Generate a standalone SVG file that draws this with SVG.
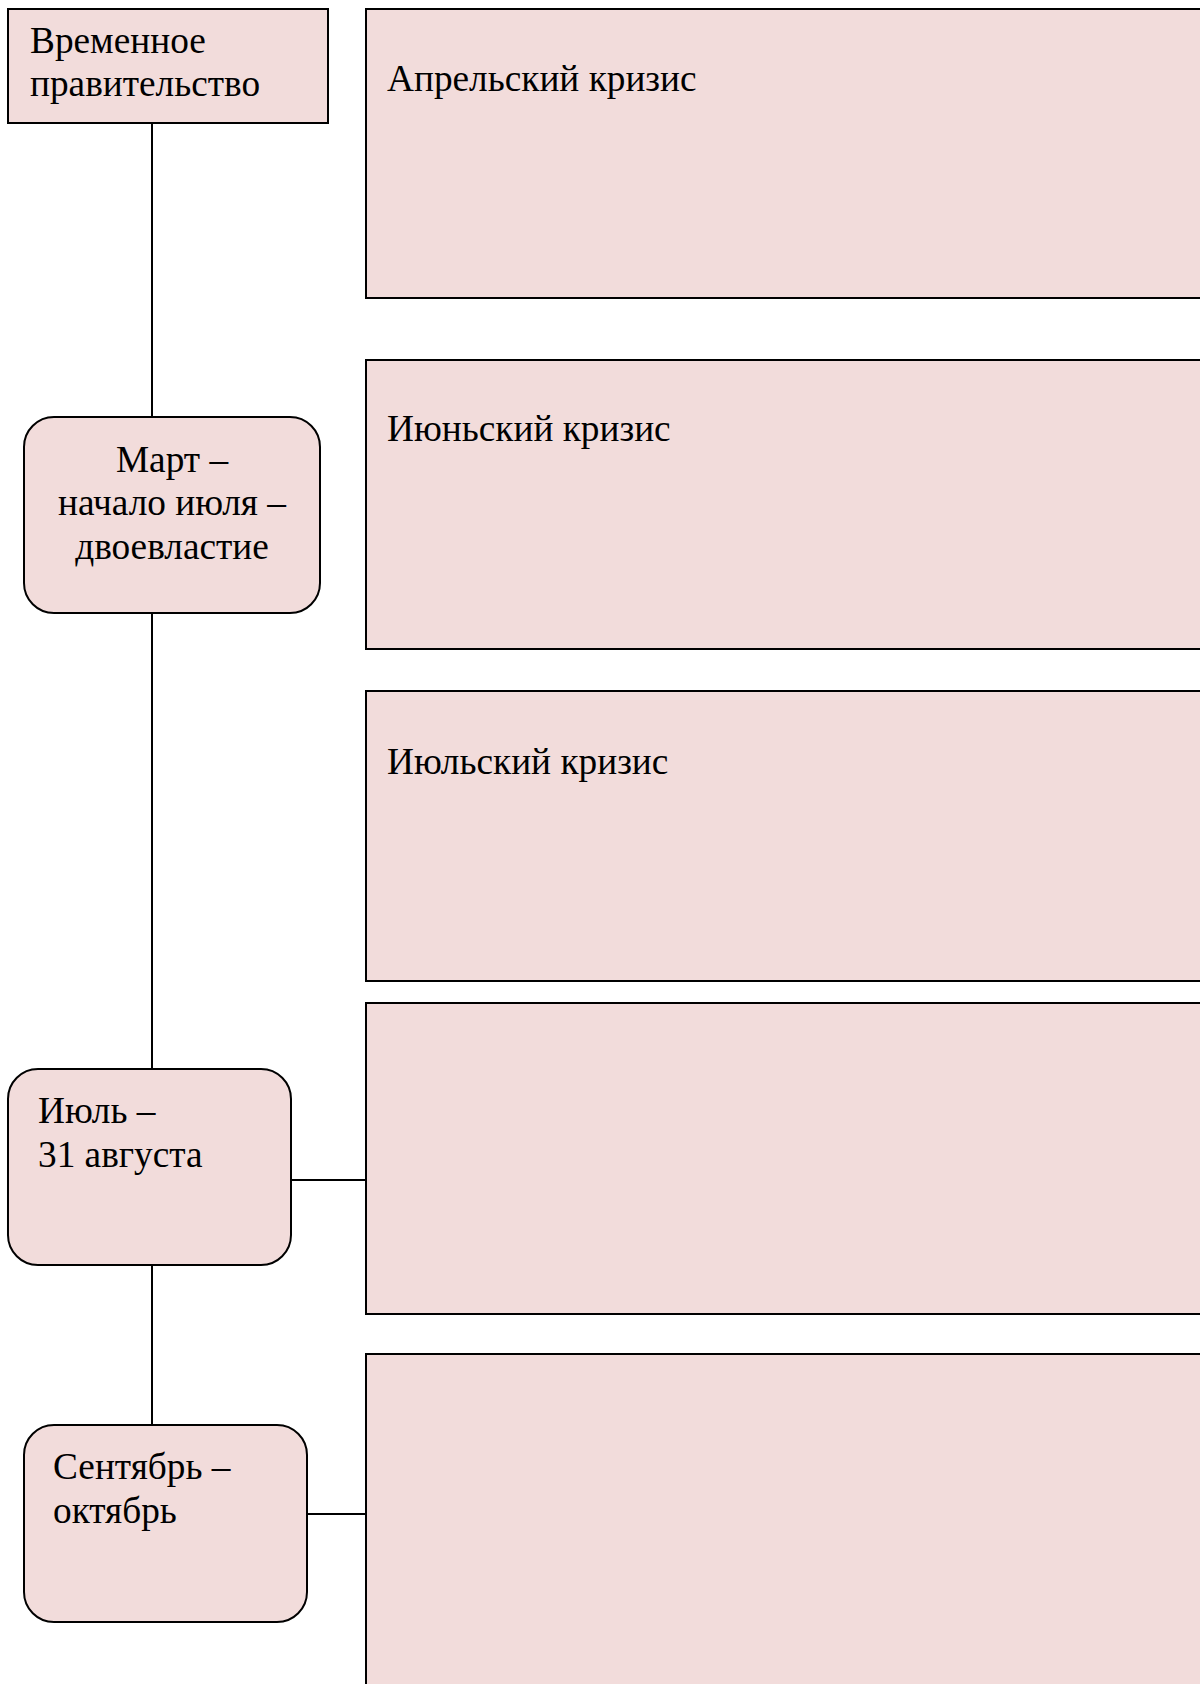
<svg xmlns="http://www.w3.org/2000/svg" width="1200" height="1684" viewBox="0 0 1200 1684">
<style>
.box{fill:#f2dcdb;stroke:#000;stroke-width:2}
.ln{stroke:#000;stroke-width:2;fill:none}
text{font-family:"Liberation Serif","Times New Roman",serif;font-size:37.3px;fill:#000}
</style>
<rect width="1200" height="1684" fill="#fff"/>
<g id="connectors">
<line class="ln" x1="152" y1="123" x2="152" y2="417"/>
<line class="ln" x1="152" y1="613" x2="152" y2="1069"/>
<line class="ln" x1="152" y1="1265" x2="152" y2="1425"/>
<line class="ln" x1="291" y1="1180" x2="366" y2="1180"/>
<line class="ln" x1="307" y1="1514" x2="366" y2="1514"/>
</g>
<g id="node-gov">
<rect class="box" x="8" y="9" width="320" height="114"/>
<text x="30" y="53">Временное</text>
<text x="30" y="96">правительство</text>
</g>
<g id="node-april">
<rect class="box" x="366" y="9" width="900" height="289"/>
<text x="387" y="91">Апрельский кризис</text>
</g>
<g id="node-june">
<rect class="box" x="366" y="360" width="900" height="289"/>
<text x="387" y="441">Июньский кризис</text>
</g>
<g id="node-july">
<rect class="box" x="366" y="691" width="900" height="290"/>
<text x="387" y="774">Июльский кризис</text>
</g>
<g id="node-box4">
<rect class="box" x="366" y="1003" width="900" height="311"/>
</g>
<g id="node-box5">
<rect class="box" x="366" y="1354" width="900" height="400"/>
</g>
<g id="node-march">
<rect class="box" x="24" y="417" width="296" height="196" rx="30" ry="30"/>
<text x="172" y="472" text-anchor="middle">Март –</text>
<text x="172" y="515" text-anchor="middle">начало июля –</text>
<text x="172" y="559" text-anchor="middle">двоевластие</text>
</g>
<g id="node-julaug">
<rect class="box" x="8" y="1069" width="283" height="196" rx="30" ry="30"/>
<text x="38" y="1123">Июль –</text>
<text x="38" y="1167">31 августа</text>
</g>
<g id="node-septoct">
<rect class="box" x="24" y="1425" width="283" height="197" rx="30" ry="30"/>
<text x="53" y="1479">Сентябрь –</text>
<text x="53" y="1523">октябрь</text>
</g>
</svg>
